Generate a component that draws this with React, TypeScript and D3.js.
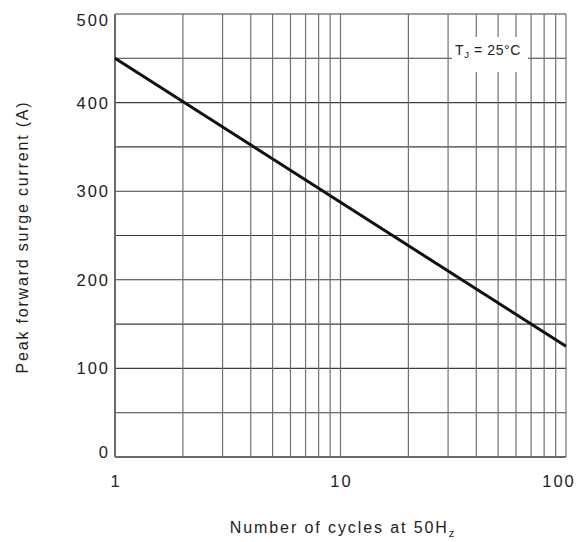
import React from "react";
import * as d3 from "d3";

const cycles = [1, 100];
const surgeCurrent = [450, 125];
const xTickLabels = [1, 10, 100];
const yGridValues = [0, 50, 100, 150, 200, 250, 300, 350, 400, 450, 500];
const yTickLabels = [0, 100, 200, 300, 400, 500];
const xGridValues = [1, 2, 3, 4, 5, 6, 7, 8, 9, 10, 20, 30, 40, 50, 60, 70, 80, 90, 100];

const W = 582;
const H = 542;
const left = 115;
const right = 566;
const top = 14;
const bottom = 457;

export default function App() {
  const x = d3.scaleLog().domain([1, 100]).range([left, right]);
  const y = d3.scaleLinear().domain([0, 500]).range([bottom, top]);
  const pts = cycles.map((c, i) => [c, surgeCurrent[i]] as [number, number]);
  const line = d3
    .line<[number, number]>()
    .x((d) => x(d[0]))
    .y((d) => y(d[1]));

  const font = "Arial, 'Liberation Sans', Helvetica, sans-serif";

  return (
    <svg
      width={W}
      height={H}
      style={{ position: "absolute", left: 0, top: 0, background: "#fff" }}
      fontFamily={font}
    >
      <rect x={0} y={0} width={W} height={H} fill="#fff" />
      {/* horizontal grid */}
      {yGridValues.map((v) => (
        <line
          key={"h" + v}
          x1={left}
          x2={right}
          y1={y(v)}
          y2={y(v)}
          stroke={v === 0 ? "#6a6a6a" : "#3c3c3c"}
          strokeWidth={v === 0 ? 2 : 1.1}
        />
      ))}
      {/* vertical grid */}
      {xGridValues.map((v) => (
        <line
          key={"v" + v}
          x1={x(v)}
          x2={x(v)}
          y1={top}
          y2={bottom}
          stroke={v === 1 ? "#6a6a6a" : "#707070"}
          strokeWidth={v === 1 ? 2 : 1.2}
        />
      ))}
      {/* legend box */}
      <rect x={452} y={37} width={76} height={35} fill="#fff" />
      <text x={455} y={55} fontSize={14} fill="#222" letterSpacing={0.6}>
        T<tspan fontSize={9.5} dy={3}>J</tspan>
        <tspan dy={-3}> = 25°C</tspan>
      </text>
      {/* data line */}
      <path d={line(pts) || ""} fill="none" stroke="#111" strokeWidth={3} />
      {/* y tick labels */}
      {yTickLabels.map((v) => {
        const yy = Math.min(Math.max(y(v), top + 6), bottom - 5);
        return (
          <text
            key={"yl" + v}
            x={110}
            y={yy}
            dy="0.36em"
            textAnchor="end"
            fontSize={16.5}
            letterSpacing={2}
            fill="#222"
          >
            {v}
          </text>
        );
      })}
      {/* x tick labels */}
      {xTickLabels.map((v) => (
        <text
          key={"xl" + v}
          x={Math.min(x(v) + 1, W - 23)}
          y={487}
          textAnchor="middle"
          fontSize={16.5}
          letterSpacing={2}
          fill="#222"
        >
          {v}
        </text>
      ))}
      {/* axis titles */}
      <text
        x={343}
        y={533}
        textAnchor="middle"
        fontSize={16}
        letterSpacing={1.9}
        fill="#222"
      >
        Number of cycles at 50H
        <tspan fontSize={11} dy={4}>z</tspan>
      </text>
      <text
        transform={`translate(28, 237) rotate(-90)`}
        textAnchor="middle"
        fontSize={16}
        letterSpacing={1.8}
        fill="#222"
      >
        Peak forward surge current (A)
      </text>
    </svg>
  );
}
